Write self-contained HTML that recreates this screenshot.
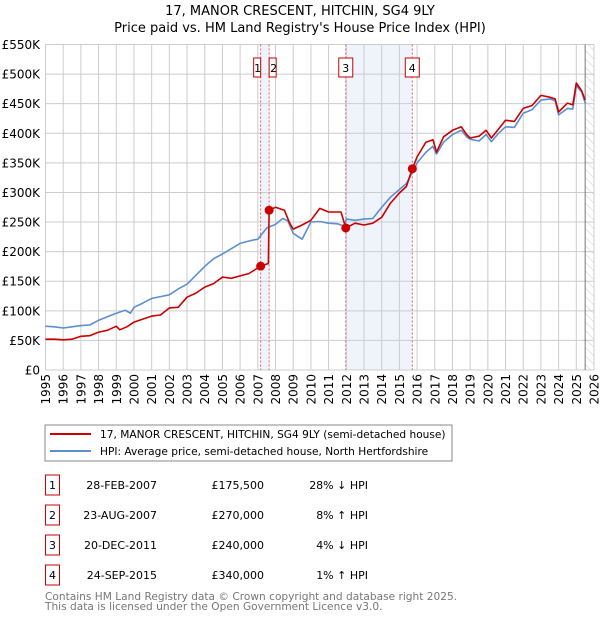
<!DOCTYPE html>
<html><head><meta charset="utf-8">
<style>
body{margin:0;background:#fff;font-family:"DejaVu Sans","Liberation Sans",sans-serif;}
#wrap{position:relative;width:600px;height:620px;overflow:hidden;}
</style></head>
<body><div id="wrap">
<svg id="chart" width="600" height="620" xmlns="http://www.w3.org/2000/svg" font-family="DejaVu Sans, Liberation Sans, sans-serif">
<defs><pattern id="hatch" width="6" height="6" patternUnits="userSpaceOnUse" patternTransform="rotate(-45)"><line x1="0" y1="0" x2="0" y2="6" stroke="#ccc" stroke-width="1"/></pattern></defs>
<text x="300" y="15" text-anchor="middle" font-size="13">17, MANOR CRESCENT, HITCHIN, SG4 9LY</text>
<text x="300" y="32" text-anchor="middle" font-size="13">Price paid vs. HM Land Registry's House Price Index (HPI)</text>
<g id="plot"></g>
<rect x="45" y="425" width="407" height="36" fill="#fff" stroke="#888"/>
<line x1="50" y1="434" x2="91" y2="434" stroke="#cc0000" stroke-width="2"/>
<text x="100" y="438" font-size="10.6">17, MANOR CRESCENT, HITCHIN, SG4 9LY (semi-detached house)</text>
<line x1="50" y1="451" x2="91" y2="451" stroke="#5b8fd0" stroke-width="2"/>
<text x="100" y="455" font-size="10.6">HPI: Average price, semi-detached house, North Hertfordshire</text>
<g id="table" font-size="11"></g>
<text x="45" y="600" font-size="10.6" fill="#777">Contains HM Land Registry data © Crown copyright and database right 2025.</text>
<text x="45" y="610" font-size="10.6" fill="#777">This data is licensed under the Open Government Licence v3.0.</text>
</svg>
</div>
<script>
const yTicks=[0,50,100,150,200,250,300,350,400,450,500,550];
const yTickLabels=["£0","£50K","£100K","£150K","£200K","£250K","£300K","£350K","£400K","£450K","£500K","£550K"];
const years=[1995,1996,1997,1998,1999,2000,2001,2002,2003,2004,2005,2006,2007,2008,2009,2010,2011,2012,2013,2014,2015,2016,2017,2018,2019,2020,2021,2022,2023,2024,2025,2026];
const hpiT=[1995,1995.5,1996,1996.5,1997,1997.5,1998,1998.5,1999,1999.5,1999.8,2000,2000.5,2001,2001.5,2002,2002.5,2003,2003.5,2004,2004.5,2005,2005.5,2006,2006.5,2006.8,2007,2007.5,2008,2008.4,2008.7,2009,2009.5,2010,2010.5,2011,2011.5,2011.9,2012,2012.5,2013,2013.5,2014,2014.5,2015,2015.4,2015.7,2016,2016.5,2016.9,2017.1,2017.5,2018,2018.5,2018.8,2019,2019.5,2019.9,2020.2,2020.6,2021,2021.5,2022,2022.5,2023,2023.5,2023.8,2024,2024.5,2024.8,2025,2025.3,2025.5];
const hpiV=[74,73,71,73,75,76,84,90,96,101,96,106,113,121,124,127,137,145,160,175,188,196,205,214,218,220,221,240,246,256,252,231,221,250,251,248,247,243,255,253,255,256,275,292,305,315,332,350,368,378,365,385,398,405,394,390,387,398,386,400,411,410,434,440,456,458,455,431,442,441,480,470,451];
const saleT=[1995,1995.5,1996,1996.5,1997,1997.5,1998,1998.5,1999,1999.2,1999.6,2000,2000.5,2001,2001.5,2002,2002.5,2003,2003.5,2004,2004.5,2005,2005.5,2006,2006.5,2007.16,2007.6,2007.64,2008,2008.5,2008.8,2009,2009.5,2010,2010.5,2011,2011.7,2011.97,2012.5,2013,2013.5,2014,2014.5,2015,2015.4,2015.73,2016,2016.5,2016.9,2017.1,2017.5,2018,2018.5,2018.8,2019,2019.5,2019.9,2020.2,2020.6,2021,2021.5,2022,2022.5,2023,2023.5,2023.8,2024,2024.5,2024.8,2025,2025.3,2025.5];
const saleV=[52,52,51,52,57,58,64,67,74,68,73,81,86,91,93,105,106,123,130,140,146,157,155,159,163,175.5,180,270,275,270,248,238,245,253,273,267,267,240,248,245,248,258,282,299,310,340,360,385,389,368,394,405,411,398,392,395,405,392,407,422,420,442,447,464,461,458,436,451,448,485,472,456];
const salesT=[2007.16,2007.64,2011.97,2015.73];
const salesV=[175.5,270,240,340];
const saleLabels=["1","2","3","4"];
const saleDates=["28-FEB-2007","23-AUG-2007","20-DEC-2011","24-SEP-2015"];
const salePrices=["£175,500","£270,000","£240,000","£340,000"];
const saleDiffs=["28% ↓ HPI","8% ↑ HPI","4% ↓ HPI","1% ↑ HPI"];
const shadeRanges=[[2007.16,2007.64],[2011.97,2015.73]];
const dataEnd=2025.5;

const NS="http://www.w3.org/2000/svg";
const L=45.5,R=594,T=44.5,B=370;
const xs=t=>L+(t-1995)/(2026-1995)*(R-L);
const ys=v=>B-v/550*(B-T);
const plot=document.getElementById('plot');
function mk(tag,attrs,parent){const e=document.createElementNS(NS,tag);for(const k in attrs)e.setAttribute(k,attrs[k]);(parent||plot).appendChild(e);return e;}

shadeRanges.forEach((r)=>{const e=mk('rect',{x:xs(r[0]),y:T,width:xs(r[1])-xs(r[0]),height:B-T,fill:'#eef3fc'});

});
const h=mk('rect',{x:xs(dataEnd),y:T,width:R-xs(dataEnd),height:B-T,fill:'url(#hatch)'});


yTicks.forEach((v,i)=>{const g=mk('line',{x1:L,x2:R,y1:ys(v),y2:ys(v),stroke:'#ccc','stroke-width':1});


const t=mk('text',{x:40,y:ys(v)+4.5,'text-anchor':'end','font-size':12});t.textContent=yTickLabels[i];

});
years.forEach(y=>{const g=mk('line',{x1:xs(y),x2:xs(y),y1:T,y2:B,stroke:'#ccc','stroke-width':1});


const t=mk('text',{x:0,y:0,'font-size':12,'text-anchor':'end',transform:`translate(${xs(y)+4.5},374) rotate(-90)`});t.textContent=y;

});
const el=mk('line',{x1:xs(dataEnd),x2:xs(dataEnd),y1:T,y2:B,stroke:'#777','stroke-width':1});


salesT.forEach((t,i)=>{const l=mk('line',{x1:xs(t),x2:xs(t),y1:T,y2:B,stroke:'#e06060','stroke-width':1,'stroke-dasharray':'2,2'});

});
function path(T2,V,color,name){const d=T2.map((t,i)=>(i?'L':'M')+xs(t).toFixed(1)+','+ys(V[i]).toFixed(1)).join('');
const p=mk('path',{d:d,fill:'none',stroke:color,'stroke-width':1.6,'stroke-linejoin':'round'});

}
path(hpiT,hpiV,'#5b8fd0','hpi-line');
path(saleT,saleV,'#cc0000','property-price-line');
salesT.forEach((t,i)=>{const c=mk('circle',{cx:xs(t),cy:ys(salesV[i]),r:4.5,fill:'#cc0000'});


const x=xs(t);
const r=mk('rect',{x:i===0?x-7:(i===1?x:x-7),y:58,width:i<2?7:14,height:19,fill:'#fff',stroke:'#cc0000','stroke-width':1});


const tx=mk('text',{x:i===0?x-3:(i===1?x+4.5:x),y:72,'text-anchor':'middle','font-size':11});tx.textContent=saleLabels[i];

});
const tb=document.getElementById('table');
saleLabels.forEach((s,i)=>{const y=475+i*30;
const r=mk('rect',{x:45.5,y:y,width:14,height:20,fill:'#fff',stroke:'#cc0000'},tb);


const cells=[[52.5,s,'middle'],[157,saleDates[i],'end'],[264,salePrices[i],'end'],[368,saleDiffs[i],'end']];
cells.forEach(c=>{const t=mk('text',{x:c[0],y:y+14,'text-anchor':c[2]},tb);t.textContent=c[1];

});});
</script>
</body></html>
